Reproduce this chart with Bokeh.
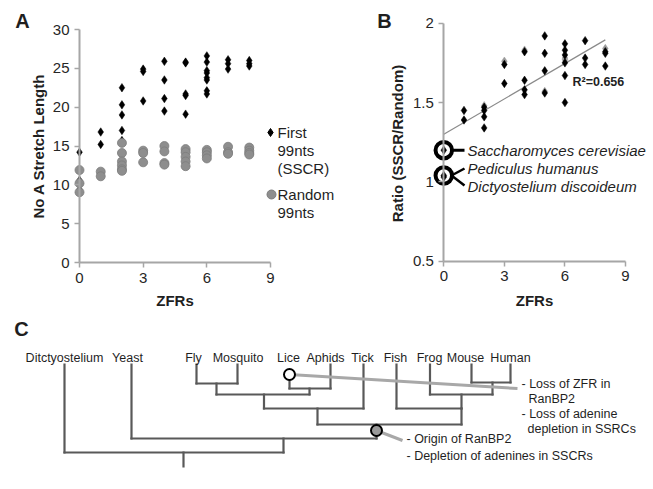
import math
from bokeh.plotting import figure
from bokeh.models import Range1d, LinearAxis, FixedTicker, CustomJSTickFormatter
from bokeh.layouts import column, row
from bokeh.core.properties import value
from bokeh.embed import file_html
from bokeh.resources import INLINE

FONT = "Liberation Sans"
TXT = "#1f1f1f"
AXIS = "#a6a6a6"
TREE = "#595959"

# ---------------- Panel A data ----------------
zfr_first = [0, 0, 0, 1, 1, 2, 2, 2, 2, 2, 3, 3, 3, 4, 4, 4, 4, 5, 5, 5, 5, 5,
             6, 6, 6, 6, 6, 6, 6, 6, 7, 7, 7, 8, 8, 8]
len_first = [14.2, 10.6, 9.4, 16.8, 15.2, 22.5, 20.3, 19.0, 17.0, 15.7, 24.9, 24.6, 20.8,
             25.9, 23.5, 21.1, 19.5, 25.8, 25.7, 21.7, 21.5, 19.1,
             26.6, 25.8, 24.7, 24.4, 23.8, 23.5, 22.1, 21.7, 26.1, 25.6, 24.9, 26.0, 25.6, 25.3]
zfr_random = [0, 0, 0, 1, 1, 2, 2, 2, 2, 2, 2, 3, 3, 3, 4, 4, 4, 4, 5, 5, 5, 5, 5,
              6, 6, 6, 6, 7, 7, 7, 8, 8, 8, 8]
len_random = [11.9, 10.2, 9.05, 11.7, 11.1, 15.4, 14.1, 13.0, 12.5, 12.0, 11.8, 14.4, 14.1, 12.9,
              15.0, 14.3, 12.8, 12.6, 14.6, 14.2, 13.6, 13.0, 12.4,
              14.5, 14.2, 13.8, 13.4, 14.9, 14.2, 14.0, 14.8, 14.4, 14.1, 13.9]
a_yticks = [0, 5, 10, 15, 20, 25, 30]
x_ticks = [0, 3, 6, 9]
legend_a = [["First", "99nts", "(SSCR)"], ["Random", "99nts"]]

# ---------------- Panel B data ----------------
zfr_ratio = [0, 0, 0, 1, 1, 2, 2, 2, 2, 3, 3, 4, 4, 4, 4, 5, 5, 5, 5,
             6, 6, 6, 6, 6, 6, 7, 7, 7, 8, 8, 8]
ratio = [1.20, 1.04, 1.03, 1.45, 1.39, 1.47, 1.45, 1.41, 1.34, 1.74, 1.62,
         1.82, 1.64, 1.58, 1.55, 1.92, 1.81, 1.70, 1.56,
         1.87, 1.83, 1.80, 1.75, 1.67, 1.50, 1.89, 1.78, 1.74, 1.82, 1.81, 1.73]
zfr_ratio_bg = [2, 3, 4, 5, 6, 6, 8]
ratio_bg = [1.48, 1.76, 1.83, 1.57, 1.78, 1.77, 1.84]
trend_x = [0, 8]
trend_y = [1.30, 1.895]
r2_text = "R\u00b2=0.656"
b_yticks = [0.5, 1, 1.5, 2]
highlight_ratio = [1.20, 1.04]
species = ["Saccharomyces cerevisiae", "Pediculus humanus", "Dictyostelium discoideum"]

# ---------------- Panel C data (cladogram) ----------------
taxa = ["Ditctyostelium", "Yeast", "Fly", "Mosquito", "Lice", "Aphids", "Tick",
        "Fish", "Frog", "Mouse", "Human"]
leaf_x = [64, 131, 196, 237, 289, 330, 363, 396, 429.5, 471, 510]
label_x = [64, 127, 193, 237.5, 288, 325, 362, 395, 429, 465, 510]
# (name, children, bar level, stem position)
clades = [
    ("FlyMos", ["Fly", "Mosquito"], 383, 216),
    ("LiceAph", ["Lice", "Aphids"], 388, 309),
    ("Insects", ["FlyMos", "LiceAph"], 394, 263.5),
    ("Arthropods", ["Insects", "Tick"], 408, 317),
    ("Mammals", ["Mouse", "Human"], 382, 492),
    ("Tetrapods", ["Frog", "Mammals"], 394, 461),
    ("Vertebrates", ["Fish", "Tetrapods"], 408, 461),
    ("Animals", ["Arthropods", "Vertebrates"], 424, 376),
    ("Opisthokonts", ["Yeast", "Animals"], 438, 283),
    ("Root", ["Ditctyostelium", "Opisthokonts"], 452, 183),
]
loss_event = ["- Loss of ZFR in", "RanBP2", "- Loss of adenine", "depletion in SSRCs"]
origin_event = ["- Origin of RanBP2", "- Depletion of adenines in SSCRs"]


def lin(p0, v0, p1, v1):
    return lambda p: v0 + (p - p0) * (v1 - v0) / (p1 - p0)


TOP_H = 313
A_W = 340
B_W = 313
C_Y0 = TOP_H
C_H = 174
C_W = A_W + B_W


def base_fig(w, h, xr, yr):
    p = figure(width=w, height=h, x_range=xr, y_range=yr, output_backend="svg",
               toolbar_location=None, x_axis_type=None, y_axis_type=None,
               min_border=0)
    p.outline_line_color = None
    p.background_fill_color = "white"
    p.border_fill_color = "white"
    return p


def style_axis(ax):
    ax.axis_line_color = AXIS
    ax.axis_line_width = 2
    ax.major_tick_line_color = AXIS
    ax.major_tick_line_width = 1.5
    ax.major_tick_out = 5
    ax.major_tick_in = 0
    ax.minor_tick_line_color = None
    ax.major_label_text_font = FONT
    ax.major_label_text_font_size = "15px"
    ax.major_label_text_color = "#262626"
    ax.major_label_standoff = 5


def txt(p, x, y, t, size="15px", style="normal", align="left", angle=0, baseline="middle"):
    p.text(x=x, y=y, text=t, text_font=value(FONT), text_font_size=value(size),
           text_font_style=style, text_align=align, text_baseline=baseline,
           text_color=TXT, angle=angle)


# ---------------- Panel A ----------------
ax_ = lin(79, 0, 270, 9)
ay_ = lin(262, 0, 29, 30)
pa = base_fig(A_W, TOP_H, Range1d(ax_(0), ax_(A_W)), Range1d(ay_(TOP_H), ay_(0)))
xa = LinearAxis(fixed_location=0, bounds=(0, 9), ticker=FixedTicker(ticks=x_ticks))
ya = LinearAxis(fixed_location=0, bounds=(0, 30), ticker=FixedTicker(ticks=a_yticks))
style_axis(xa)
style_axis(ya)
pa.add_layout(xa, "below")
pa.add_layout(ya, "left")
pa.scatter(zfr_first, len_first, marker="diamond", size=8.5, fill_color="black",
           line_color="black", line_width=0.5)
pa.scatter(zfr_random, len_random, marker="circle", size=9, fill_color="#8e8e8e",
           line_color="#7c7c7c", line_width=0.8)
# legend (manual)
pa.scatter([ax_(270)], [ay_(132)], marker="diamond", size=8, fill_color="black", line_color="black")
pa.scatter([ax_(271)], [ay_(194)], marker="circle", size=9, fill_color="#8e8e8e", line_color="#7c7c7c")
txt(pa, [ax_(277)] * 3, [ay_(132), ay_(150), ay_(168)], legend_a[0])
txt(pa, [ax_(277)] * 2, [ay_(194), ay_(212)], legend_a[1])
txt(pa, [ax_(37.5)], [ay_(145.5)], ["No A Stretch Length"], style="bold", align="center", angle=math.pi / 2)
txt(pa, [ax_(174.5)], [ay_(300)], ["ZFRs"], style="bold", align="center")
txt(pa, [ax_(22)], [ay_(20)], ["A"], size="20px", style="bold", align="center")

# ---------------- Panel B ----------------
bx_ = lin(443.3, 0, 625, 9)
by_ = lin(260.7, 0.5, 22.7, 2.0)
pb = base_fig(B_W, TOP_H, Range1d(bx_(A_W), bx_(A_W + B_W)), Range1d(by_(TOP_H), by_(0)))
xb = LinearAxis(fixed_location=0.5, bounds=(0, 9), ticker=FixedTicker(ticks=x_ticks))
yb = LinearAxis(fixed_location=0, bounds=(0.5, 2), ticker=FixedTicker(ticks=b_yticks),
                formatter=CustomJSTickFormatter(code="return tick.toString();"))
style_axis(xb)
style_axis(yb)
pb.add_layout(xb, "below")
pb.add_layout(yb, "left")
pb.line(trend_x, trend_y, line_color="#8a8a8a", line_width=1.2)
pb.scatter(zfr_ratio_bg, ratio_bg, marker="diamond", size=8.5, fill_color="#9a9a9a",
           line_color="#9a9a9a", line_width=0.5)
pb.scatter(zfr_ratio, ratio, marker="diamond", size=8.5, fill_color="black",
           line_color="black", line_width=0.5)
pb.scatter([0] * len(highlight_ratio), highlight_ratio, marker="circle", size=16.5,
           fill_color=None, line_color="black", line_width=4)
# connectors from rings to species names
pb.segment([bx_(451)], [highlight_ratio[0]], [bx_(464)], [highlight_ratio[0]], line_color="black", line_width=3)
pb.segment([bx_(451), bx_(451)], [highlight_ratio[1]] * 2, [bx_(464), bx_(464)], [by_(168), by_(185)],
           line_color="black", line_width=2.5)
txt(pb, [bx_(467)] * 3, [by_(149.5), by_(168), by_(186)], species, size="15px", style="italic")
txt(pb, [bx_(572)], [by_(81)], [r2_text], size="12.5px", style="bold")
txt(pb, [bx_(397)], [by_(143)], ["Ratio (SSCR/Random)"], size="15px", style="bold",
    align="center", angle=math.pi / 2)
txt(pb, [bx_(534)], [by_(300)], ["ZFRs"], style="bold", align="center")
txt(pb, [bx_(384)], [by_(20)], ["B"], size="20px", style="bold", align="center")

# ---------------- Panel C ----------------
pc = base_fig(C_W, C_H, Range1d(0, C_W), Range1d(C_Y0 + C_H, C_Y0))
LABEL_Y = 357
LEAF_TOP = 364
loss_marker = (289, 374)
origin_marker = (376, 430)
pos = dict(zip(taxa, leaf_x))
top = {t: LEAF_TOP for t in taxa}
top["Lice"] = loss_marker[1]
x0s, y0s, x1s, y1s = [], [], [], []
for name, kids, lvl, stem in clades:
    kx = [pos[k] for k in kids]
    x0s.append(min(kx)); y0s.append(lvl); x1s.append(max(kx)); y1s.append(lvl)
    for k in kids:
        x0s.append(pos[k]); y0s.append(top[k]); x1s.append(pos[k]); y1s.append(lvl)
    pos[name] = stem
    top[name] = lvl
# root stub
x0s.append(pos["Root"]); y0s.append(top["Root"]); x1s.append(pos["Root"]); y1s.append(466)
pc.segment(x0s, y0s, x1s, y1s, line_color=TREE, line_width=2.2, line_cap="square")
pc.segment([loss_marker[0], origin_marker[0]], [loss_marker[1], origin_marker[1]],
           [517, 402], [388, 440], line_color="#a8a8a8", line_width=3)
pc.scatter([loss_marker[0]], [loss_marker[1]], marker="circle", size=11, fill_color="white",
           line_color="black", line_width=2)
pc.scatter([origin_marker[0]], [origin_marker[1]], marker="circle", size=11, fill_color="#9a9a9a",
           line_color="black", line_width=2)
txt(pc, label_x, [LABEL_Y] * len(taxa), taxa, size="12.5px", align="center")
txt(pc, [521, 528, 521, 527], [383, 398, 413, 428], loss_event, size="12.5px")
txt(pc, [406, 406], [438, 455], origin_event, size="12.5px")
txt(pc, [21], [328], ["C"], size="20px", style="bold", align="center")

layout = column(row(pa, pb), pc)
open("out.html", "w").write(file_html(layout, INLINE))
